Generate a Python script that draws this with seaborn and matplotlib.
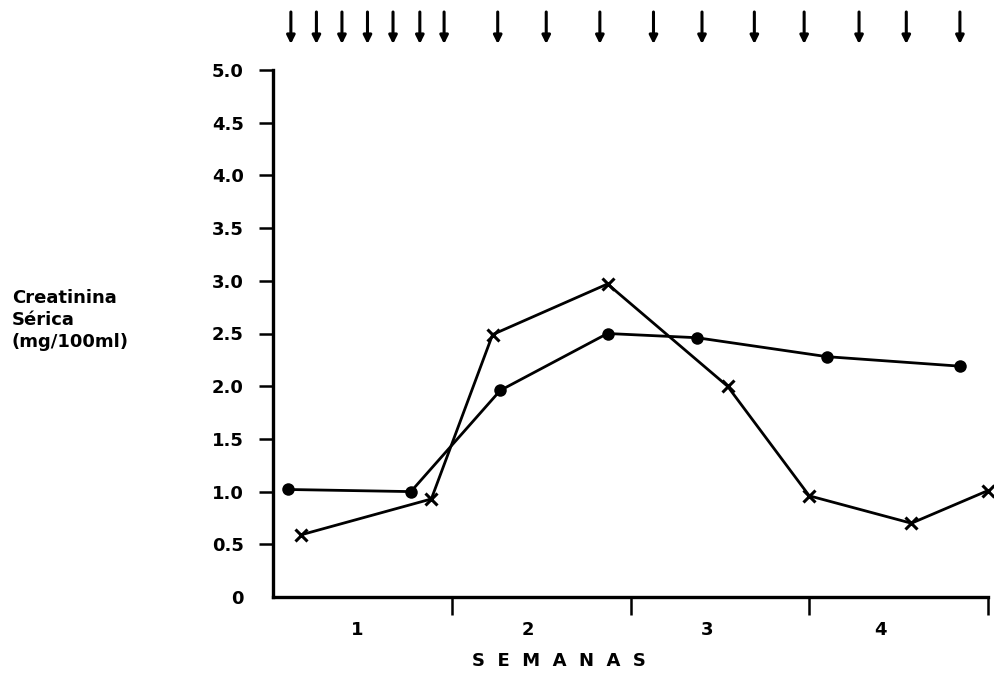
import numpy as np
import pandas as pd
import matplotlib
matplotlib.use("Agg")
import matplotlib.pyplot as plt
import seaborn as sns

# ---------------------------------------------------------------------------
# Data (days since start, serum creatinine mg/100ml)
# ---------------------------------------------------------------------------
dot_days = [0.6, 5.4, 8.9, 13.1, 16.6, 21.7, 26.9]
dot_vals = [1.02, 1.00, 1.96, 2.50, 2.46, 2.28, 2.19]

cross_days = [1.1, 6.2, 8.6, 13.1, 17.8, 21.0, 25.0, 28.0]
cross_vals = [0.59, 0.93, 2.49, 2.97, 2.00, 0.96, 0.70, 1.01]

# dosing arrows along the top
arrow_days = [0.7, 1.7, 2.7, 3.7, 4.7, 5.75, 6.7, 8.8, 10.7, 12.8,
              14.9, 16.8, 18.85, 20.8, 22.95, 24.8, 26.9]

week_ticks = [7, 14, 21, 28]
week_label_pos = [3.3, 10.0, 17.0, 23.8]
week_labels = ["1", "2", "3", "4"]

y_ticks = [0, 0.5, 1.0, 1.5, 2.0, 2.5, 3.0, 3.5, 4.0, 4.5, 5.0]
y_labels = ["0", "0.5", "1.0", "1.5", "2.0", "2.5", "3.0", "3.5", "4.0", "4.5", "5.0"]

sns.set_style("ticks")
plt.rcParams["font.family"] = ["DejaVu Sans"]
plt.rcParams["font.weight"] = "bold"
plt.rcParams["text.color"] = "black"
plt.rcParams["xtick.color"] = "black"
plt.rcParams["ytick.color"] = "black"
plt.rcParams["axes.labelcolor"] = "black"

fig = plt.figure(figsize=(9.95, 6.76), dpi=100)
ax = fig.add_axes([273 / 995, 1 - 597 / 676, (988 - 273) / 995, (597 - 70) / 676])

df_dot = pd.DataFrame({"dia": dot_days, "creat": dot_vals})
df_cross = pd.DataFrame({"dia": cross_days, "creat": cross_vals})

sns.lineplot(data=df_dot, x="dia", y="creat", ax=ax, color="black",
             linewidth=2.0, marker="o", markersize=9, markeredgewidth=0,
             clip_on=False)
sns.lineplot(data=df_cross, x="dia", y="creat", ax=ax, color="black",
             linewidth=2.0, marker="x", markersize=9, markeredgewidth=2.2,
             markeredgecolor="black", clip_on=False)

ax.set_xlim(0, 28)
ax.set_ylim(0, 5.0)

# axes styling
sns.despine(ax=ax)
for side in ["left", "bottom"]:
    ax.spines[side].set_linewidth(2.4)
    ax.spines[side].set_color("black")

ax.set_yticks(y_ticks)
ax.set_yticklabels(y_labels, fontsize=13, fontweight="bold")
ax.tick_params(axis="y", direction="out", length=10, width=1.8, pad=11, colors="black")
ax.yaxis.get_major_ticks()[0].tick1line.set_visible(False)

ax.set_xticks(week_ticks)
ax.set_xticklabels([])
ax.tick_params(axis="x", which="major", direction="out", length=13, width=1.8, colors="black")
ax.set_xticks(week_label_pos, minor=True)
ax.set_xticklabels(week_labels, minor=True, fontsize=13, fontweight="bold")
ax.tick_params(axis="x", which="minor", length=0, pad=17, colors="black")

ax.set_xlabel("S  E  M  A  N  A  S", fontsize=13, fontweight="bold", color="black")
ax.xaxis.set_label_coords(0.40, -0.105)
ax.set_ylabel("")

fig.text(12 / 995, 1 - 320 / 676, "Creatinina\nSérica\n(mg/100ml)",
         ha="left", va="center", fontsize=13, fontweight="bold",
         linespacing=1.3, color="black")

# arrows above the plot
for d in arrow_days:
    ax.annotate("", xy=(d, 1 - 44 / 676), xytext=(d, 1 - 12 / 676),
                xycoords=("data", "figure fraction"),
                textcoords=("data", "figure fraction"),
                arrowprops=dict(arrowstyle="-|>", color="black", lw=2.2,
                                mutation_scale=12, shrinkA=0, shrinkB=0))

fig.savefig("out.png", dpi=100)
